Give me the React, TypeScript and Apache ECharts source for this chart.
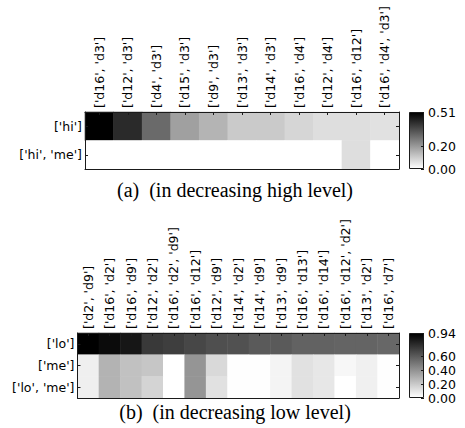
import React, { useEffect, useRef } from "react";
import * as echarts from "echarts";

const topCols = [
  "['d16', 'd3']", "['d12', 'd3']", "['d4', 'd3']", "['d15', 'd3']", "['d9', 'd3']",
  "['d13', 'd3']", "['d14', 'd3']", "['d16', 'd4']", "['d12', 'd4']", "['d16', 'd12']",
  "['d16', 'd4', 'd3']",
];
const topRows = ["['hi']", "['hi', 'me']"];
const topHi = [0.51, 0.426, 0.298, 0.19, 0.15, 0.106, 0.106, 0.082, 0.066, 0.066, 0.06];
const topHiMe = [0, 0, 0, 0, 0, 0, 0, 0, 0, 0.066, 0];
const topMax = 0.51;
const topTicks = [0, 0.2, 0.51];

const botCols = [
  "['d2', 'd9']", "['d16', 'd2']", "['d16', 'd9']", "['d12', 'd2']", "['d16', 'd2', 'd9']",
  "['d16', 'd12']", "['d12', 'd9']", "['d14', 'd2']", "['d14', 'd9']", "['d13', 'd9']",
  "['d16', 'd13']", "['d16', 'd14']", "['d16', 'd12', 'd2']", "['d13', 'd2']", "['d16', 'd7']",
];
const botRows = ["['lo']", "['me']", "['lo', 'me']"];
const botLo = [0.94, 0.9, 0.86, 0.73, 0.71, 0.68, 0.65, 0.64, 0.61, 0.61, 0.58, 0.58, 0.57, 0.57, 0.56];
const botMe = [0.06, 0.28, 0.23, 0.21, 0, 0.39, 0.14, 0.005, 0.005, 0.04, 0.11, 0.09, 0.03, 0.055, 0.005];
const botLoMe = [0.06, 0.28, 0.23, 0.16, 0, 0.39, 0.11, 0.005, 0.005, 0.04, 0.11, 0.09, 0, 0.055, 0.005];
const botMax = 0.94;
const botTicks = [0, 0.2, 0.4, 0.6, 0.94];

const captionA = "(a)\u2002(in decreasing high level)";
const captionB = "(b)\u2002(in decreasing low level)";

const FONT = "'DejaVu Sans', sans-serif";
const FS = 12.5;
const FRAME = "#1a1a1a";

function toData(rows: number[][]) {
  const out: number[][] = [];
  rows.forEach((vals, r) => vals.forEach((v, c) => out.push([c, r, v])));
  return out;
}

export default function App() {
  const ref = useRef<HTMLDivElement>(null);
  useEffect(() => {
    if (!ref.current) return;
    const chart = echarts.init(ref.current, null, { renderer: "svg" });

    const grids = [
      { left: 85, top: 112, width: 314, height: 57 },
      { left: 77.5, top: 333, width: 321.5, height: 65 },
      { left: 409, top: 112, width: 15, height: 57 },
      { left: 409, top: 333, width: 15, height: 65 },
    ].map((g) => ({ ...g, outerBoundsMode: "none", containLabel: false }));

    const lineStyle = { color: FRAME, width: 1 };
    const tick = { show: true, inside: true, length: 3, lineStyle, alignWithLabel: true, interval: 0 };

    const heatX = (gi: number, cols: string[]) => [
      {
        type: "category", gridIndex: gi, data: cols, position: "top", z: 10,
        axisLine: { show: true, lineStyle }, axisTick: tick, splitLine: { show: false },
        axisLabel: { rotate: -90, interval: 0, hideOverlap: false, margin: 4, color: "#000", fontFamily: FONT, fontSize: FS },
      },
      {
        type: "category", gridIndex: gi, data: cols, position: "bottom", z: 10,
        axisLine: { show: true, lineStyle }, axisTick: { show: false }, axisLabel: { show: false }, splitLine: { show: false },
      },
    ];
    const heatY = (gi: number, rows: string[]) => [
      {
        type: "category", gridIndex: gi, data: rows, position: "left", inverse: true, z: 10,
        axisLine: { show: true, lineStyle }, axisTick: tick, splitLine: { show: false },
        axisLabel: { interval: 0, margin: 3, color: "#000", fontFamily: FONT, fontSize: FS },
      },
      {
        type: "category", gridIndex: gi, data: rows, position: "right", inverse: true, z: 10,
        axisLine: { show: true, lineStyle }, axisTick: tick, axisLabel: { show: false }, splitLine: { show: false },
      },
    ];

    const cbX = (gi: number) => ({
      type: "category", gridIndex: gi, data: ["c"], show: false,
    });
    const cbY = (gi: number, max: number, ticks: number[]) => ({
      type: "value", gridIndex: gi, min: 0, max, position: "right", z: 10,
      axisLine: { show: false }, splitLine: { show: false },
      axisTick: { show: true, inside: true, length: 3, lineStyle, customValues: ticks },
      axisLabel: {
        customValues: ticks, margin: 4, color: "#000", fontFamily: FONT, fontSize: FS,
        formatter: (v: number) => v.toFixed(2),
      },
    });

    const gradient = new echarts.graphic.LinearGradient(0, 0, 0, 1, [
      { offset: 0, color: "#000000" },
      { offset: 1, color: "#ffffff" },
    ]);

    const capStyle = {
      fontFamily: "'Liberation Serif', serif", fontSize: 20, fill: "#000",
      textAlign: "center", textVerticalAlign: "middle",
    };

    const option: any = {
      animation: false,
      backgroundColor: "#ffffff",
      grid: grids,
      xAxis: [...heatX(0, topCols), ...heatX(1, botCols), cbX(2), cbX(3)],
      yAxis: [...heatY(0, topRows), ...heatY(1, botRows), cbY(2, topMax, topTicks), cbY(3, botMax, botTicks)],
      visualMap: [
        { type: "continuous", show: false, seriesIndex: 0, min: 0, max: topMax, inRange: { color: ["#ffffff", "#000000"] } },
        { type: "continuous", show: false, seriesIndex: 1, min: 0, max: botMax, inRange: { color: ["#ffffff", "#000000"] } },
      ],
      series: [
        { type: "heatmap", xAxisIndex: 0, yAxisIndex: 0, data: toData([topHi, topHiMe]), itemStyle: { borderWidth: 0 } },
        { type: "heatmap", xAxisIndex: 2, yAxisIndex: 2, data: toData([botLo, botMe, botLoMe]), itemStyle: { borderWidth: 0 } },
        {
          type: "bar", xAxisIndex: 4, yAxisIndex: 4, data: [topMax], barWidth: "100%",
          itemStyle: { color: gradient, borderColor: FRAME, borderWidth: 1 },
        },
        {
          type: "bar", xAxisIndex: 5, yAxisIndex: 5, data: [botMax], barWidth: "100%",
          itemStyle: { color: gradient, borderColor: FRAME, borderWidth: 1 },
        },
      ],
      graphic: [
        { type: "text", x: 235, y: 190, style: { ...capStyle, text: captionA } },
        { type: "text", x: 235, y: 412, style: { ...capStyle, text: captionB } },
      ],
    };
    chart.setOption(option);
    return () => chart.dispose();
  }, []);

  return (
    <div
      ref={ref}
      style={{ position: "fixed", left: 0, top: 0, width: 465, height: 428, background: "#fff" }}
    />
  );
}
